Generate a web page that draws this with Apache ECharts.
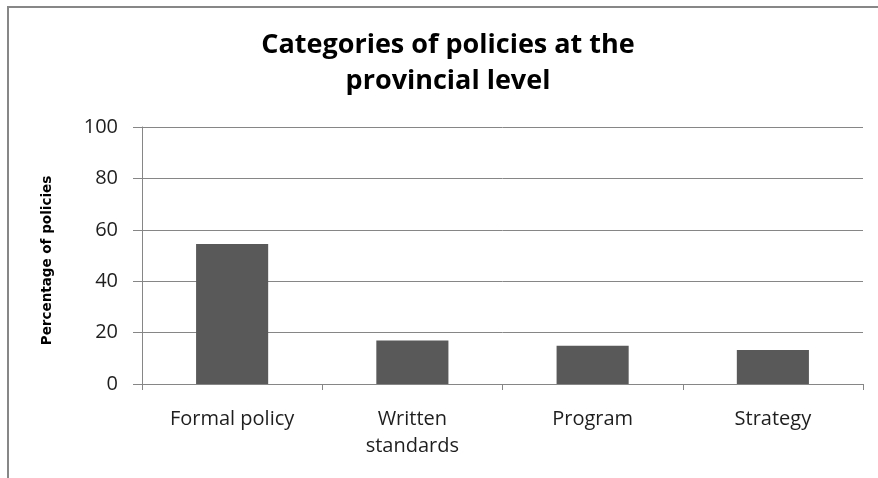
<!DOCTYPE html>
<html>
<head>
<meta charset="utf-8">
<script src="https://cdn.jsdelivr.net/npm/echarts@6/dist/echarts.min.js"></script>
<style>html,body{margin:0;padding:0;background:#fff;}#c{width:878px;height:478px;}</style>
</head>
<body>
<div id="c"></div>
<script>
var titleLines = ['Categories of policies at the', 'provincial level'];
var categories = ['Formal policy', 'Written\nstandards', 'Program', 'Strategy'];
var values = [54.5, 16.9, 14.9, 13.2];
var yAxisName = 'Percentage of policies';
var yMin = 0, yMax = 100, yStep = 20;

var chart = echarts.init(document.getElementById('c'), null, {renderer: 'canvas'});
chart.setOption({
  backgroundColor: '#ffffff',
  animation: false,
  graphic: [{
    type: 'rect', silent: true,
    shape: {x: 8, y: 7, width: 1200, height: 1200},
    style: {fill: 'none', stroke: '#878787', lineWidth: 2}
  }],
  title: {
    text: titleLines.join('\n'),
    left: 443, top: 22, textAlign: 'center',
    textStyle: {fontFamily: 'Open Sans', fontWeight: 'bold', fontSize: 27, lineHeight: 36, color: '#000'}
  },
  grid: {left: 142, top: 127, right: 15, bottom: 94, containLabel: false},
  xAxis: {
    type: 'category', data: categories,
    axisLine: {lineStyle: {color: '#868686', width: 1}},
    axisTick: {show: true, length: 6, lineStyle: {color: '#868686'}},
    axisLabel: {margin: 22, fontFamily: 'Open Sans', fontSize: 20, lineHeight: 27, color: '#1e1e1e', interval: 0}
  },
  yAxis: {
    type: 'value', min: yMin, max: yMax, interval: yStep,
    name: yAxisName, nameLocation: 'middle', nameGap: 88, nameRotate: 90,
    nameTextStyle: {fontFamily: 'DejaVu Sans', fontWeight: 'bold', fontSize: 13.5, color: '#000', padding: [0, 10, 0, 0]},
    axisLine: {show: true, lineStyle: {color: '#868686', width: 1}},
    axisTick: {show: true, length: 9, lineStyle: {color: '#868686'}},
    axisLabel: {margin: 24, fontFamily: 'Open Sans', fontSize: 20, color: '#1e1e1e'},
    splitLine: {show: true, lineStyle: {color: '#868686', width: 1}}
  },
  series: [{
    type: 'bar', data: values, barWidth: '40%',
    itemStyle: {color: '#595959'}
  }]
});
</script>
</body>
</html>
